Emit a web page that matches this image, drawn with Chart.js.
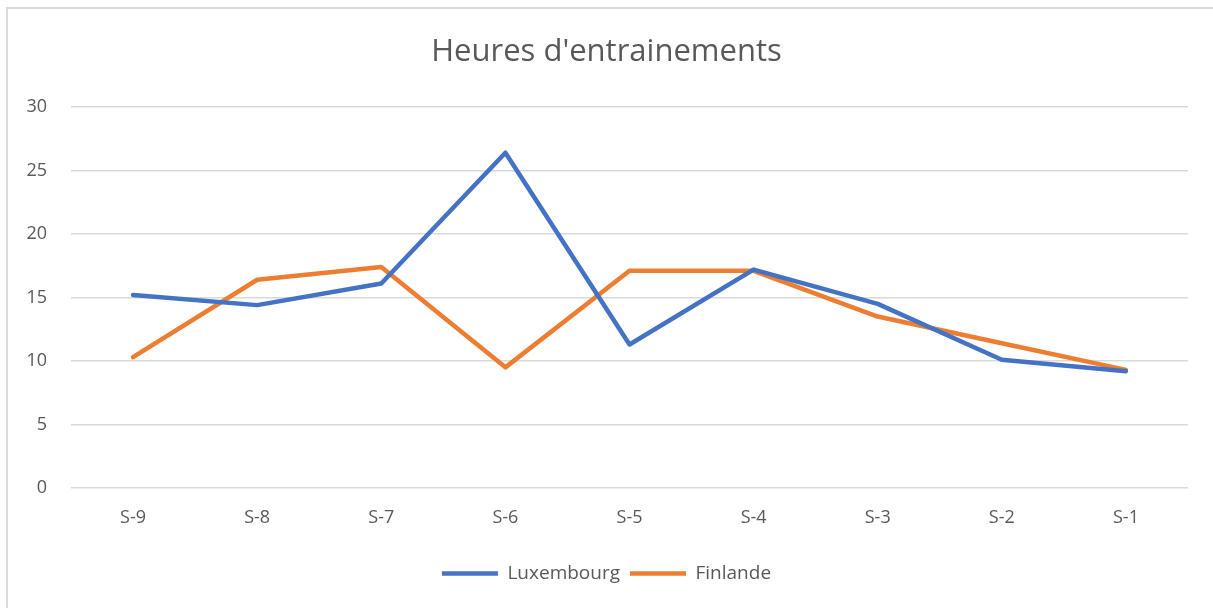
<!DOCTYPE html>
<html>
<head>
<meta charset="utf-8">
<script src="https://cdn.jsdelivr.net/npm/chart.js@4"></script>
<style>
  html, body { margin: 0; padding: 0; background: #fff; }
  #wrap { width: 1213px; height: 608px; }
</style>
</head>
<body>
<div id="wrap"><canvas id="trainingChart" width="1213" height="608"></canvas></div>
<script>
const weeks = ['S-9', 'S-8', 'S-7', 'S-6', 'S-5', 'S-4', 'S-3', 'S-2', 'S-1'];
const luxembourg = [15.2, 14.4, 16.1, 26.4, 11.3, 17.2, 14.5, 10.1, 9.2];
const finlande = [10.3, 16.4, 17.4, 9.5, 17.1, 17.1, 13.5, 11.4, 9.3];
const yTicks = [0, 5, 10, 15, 20, 25, 30];

const textColor = '#595959';
const gridColor = '#d9d9d9';

// light grey frame on the left and top edges, like the exported chart
const framePlugin = {
    id: 'frame',
    beforeDraw(chart) {
        const ctx = chart.ctx;
        ctx.save();
        ctx.fillStyle = '#fff';
        ctx.fillRect(0, 0, chart.width, chart.height);
        ctx.strokeStyle = gridColor;
        ctx.lineWidth = 2;
        ctx.beginPath();
        ctx.moveTo(7, chart.height);
        ctx.lineTo(7, 8);
        ctx.lineTo(chart.width, 8);
        ctx.stroke();
        ctx.restore();
    }
};

const ctx = document.getElementById('trainingChart').getContext('2d');
new Chart(ctx, {
    type: 'line',
    data: {
        labels: weeks,
        datasets: [
            {
                label: 'Luxembourg',
                data: luxembourg,
                borderColor: '#4472C4',
                backgroundColor: '#4472C4',
                borderWidth: 4.5,
                borderCapStyle: 'round',
                borderJoinStyle: 'round',
                pointRadius: 0,
                tension: 0
            },
            {
                label: 'Finlande',
                data: finlande,
                borderColor: '#ED7D31',
                backgroundColor: '#ED7D31',
                borderWidth: 4.5,
                borderCapStyle: 'round',
                borderJoinStyle: 'round',
                pointRadius: 0,
                tension: 0
            }
        ]
    },
    options: {
        responsive: false,
        animation: false,
        layout: {
            padding: { left: 25, right: 25, top: 0, bottom: 15 }
        },
        plugins: {
            title: {
                display: true,
                text: "Heures d'entrainements",
                color: textColor,
                font: { family: 'Open Sans', size: 31, weight: '400', lineHeight: 1.2 },
                padding: { top: 34, bottom: 35.8 }
            },
            legend: {
                position: 'bottom',
                labels: {
                    usePointStyle: true,
                    pointStyleWidth: 56,
                    pointStyle: 'line',
                    color: textColor,
                    font: { family: 'Open Sans', size: 19 },
                    padding: 10
                }
            },
            tooltip: { enabled: false }
        },
        scales: {
            x: {
                offset: true,
                grid: { display: false, drawTicks: false },
                border: { display: false },
                ticks: {
                    color: textColor,
                    font: { family: 'Open Sans', size: 18 },
                    padding: 19,
                    maxRotation: 0
                },
                afterFit(scale) { scale.height = 66; }
            },
            y: {
                min: 0,
                max: 30,
                afterBuildTicks(scale) {
                    scale.ticks = yTicks.map(v => ({ value: v }));
                },
                grid: { color: gridColor, lineWidth: 1.5, drawTicks: false },
                border: { display: false },
                ticks: {
                    color: textColor,
                    font: { family: 'Open Sans', size: 18 },
                    padding: 24
                },
                afterFit(scale) { scale.width = 46; }
            }
        }
    },
    plugins: [framePlugin]
});
</script>
</body>
</html>
